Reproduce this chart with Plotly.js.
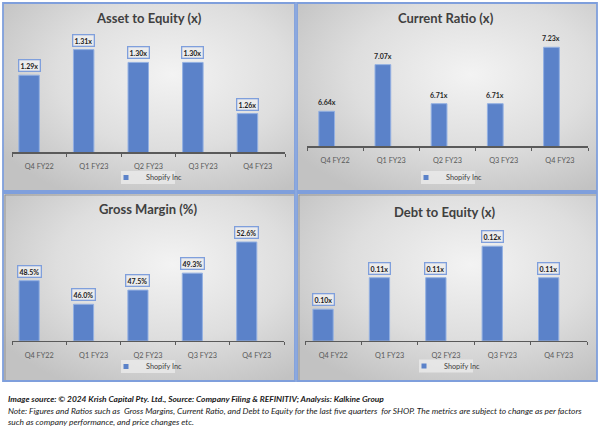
<!DOCTYPE html>
<html>
<head>
<meta charset="utf-8">
<script src="https://cdn.plot.ly/plotly-3.0.1.min.js"></script>
<style>html,body{margin:0;padding:0;background:#fff;}#chart{width:602px;height:429px;}</style>
</head>
<body>
<div id="chart"></div>
<script>
// ---- data ----
const quarters = ['Q4 FY22', 'Q1 FY23', 'Q2 FY23', 'Q3 FY23', 'Q4 FY23'];
const assetToEquity = [1.29, 1.31, 1.30, 1.30, 1.26];
const currentRatio = [6.64, 7.07, 6.71, 6.71, 7.23];
const grossMargin = [48.5, 46.0, 47.5, 49.3, 52.6];
const debtToEquity = [0.10, 0.11, 0.11, 0.12, 0.11];
const seriesName = 'Shopify Inc';
const titles = ['Asset to Equity (x)', 'Current Ratio (x)', 'Gross Margin (%)', 'Debt to Equity (x)'];
const footer1 = 'Image source: © 2024 Krish Capital Pty. Ltd., Source: Company Filing & REFINITIV; Analysis: Kalkine Group';
const footer2 = 'Note: Figures and Ratios such as  Gross Margins, Current Ratio, and Debt to Equity for the last five quarters  for SHOP. The metrics are subject to change as per factors';
const footer3 = 'such as company performance, and price changes etc.';

// ---- layout helpers ----
const W = 602, H = 429;
const px = v => v / W;
const py = v => 1 - v / H;
const FONT = 'Lato, "Open Sans", sans-serif';
const barColor = '#5b82c9';
const barLine = '#93b0e2';
const borderBlue = '#7f9fdc';

const panels = [
  {box: [3, 3, 295, 191], plot: [12, 285, 152, 40], range: [1.23, 1.3175], vals: assetToEquity, fmt: v => v.toFixed(2) + 'x', boxed: true, off: -0.375, w: 0.375, title: [149, 18], legend: [148, 177.5]},
  {box: [297, 3, 597, 191], plot: [307, 588, 146, 40], range: [6.32, 7.297], vals: currentRatio, fmt: v => v.toFixed(2) + 'x', boxed: false, off: -0.29, w: 0.28, title: [446, 18], legend: [448, 177.5]},
  {box: [3, 193, 295, 381], plot: [12, 284, 340.7, 230], range: [42.14, 53.87], vals: grossMargin, fmt: v => v.toFixed(1) + '%', boxed: true, off: -0.37, w: 0.37, title: [148, 209], legend: [148, 366.5]},
  {box: [297, 193, 597, 381], plot: [305, 587, 340.7, 230], range: [0.09, 0.12514], vals: debtToEquity, fmt: v => v.toFixed(2) + 'x', boxed: true, off: -0.36, w: 0.36, title: [445, 212], legend: [446, 366]}
];

const grad = "<svg xmlns='http://www.w3.org/2000/svg' width='100' height='100' viewBox='0 0 100 100' preserveAspectRatio='none'><defs><radialGradient id='g' cx='58%' cy='38%' r='72%'><stop offset='0' stop-color='#f3f3f3'/><stop offset='0.55' stop-color='#dedede'/><stop offset='1' stop-color='#c2c2c2'/></radialGradient></defs><rect width='100' height='100' fill='url(#g)'/></svg>";
const gradSrc = 'data:image/svg+xml;charset=utf-8,' + encodeURIComponent(grad);

const data = [];
const layout = {
  width: W, height: H,
  margin: {l: 0, r: 0, t: 0, b: 0},
  paper_bgcolor: '#ffffff',
  plot_bgcolor: 'rgba(0,0,0,0)',
  font: {family: FONT, color: '#595959'},
  bargap: 0,
  images: [], shapes: [], annotations: []
};

panels.forEach((p, i) => {
  const n = i + 1;
  const xa = 'xaxis' + (n === 1 ? '' : n), ya = 'yaxis' + (n === 1 ? '' : n);
  const xr = 'x' + (n === 1 ? '' : n), yr = 'y' + (n === 1 ? '' : n);
  const lg = 'legend' + (n === 1 ? '' : n);
  const [b0, b1, b2, b3] = p.box;
  const [lx, ly] = p.legend;
  layout.images.push({source: gradSrc, xref: 'paper', yref: 'paper', x: px(b0), y: py(b1), sizex: px(b2) - px(b0), sizey: py(b1) - py(b3), xanchor: 'left', yanchor: 'top', sizing: 'stretch', layer: 'below'});
  layout.shapes.push({type: 'rect', xref: 'paper', yref: 'paper', x0: px(b0), x1: px(b2), y0: py(b1), y1: py(b3), line: {color: borderBlue, width: 1.8}});
  layout.shapes.push({type: 'rect', xref: 'paper', yref: 'paper', layer: 'below', x0: px(lx - 27), x1: px(lx + 27), y0: py(ly - 6.5), y1: py(ly + 6.5), fillcolor: 'rgba(236,236,236,0.75)', line: {width: 0}});
  if (i >= 2) {
    layout.shapes.push({type: 'path', xref: 'paper', yref: 'paper', path: `M${px(b0 + 2)},${py(b3 - 1)} L${px(b0 + 2)},${py(b1 + 2)} L${px(b2 - 1)},${py(b1 + 2)}`, line: {color: '#8a8a8a', width: 0.8}});
  }
  layout[xa] = {domain: [px(p.plot[0]), px(p.plot[1])], anchor: yr, type: 'category', showline: true, linecolor: '#5a5a5a', linewidth: 1.5, ticks: 'outside', tickson: 'boundaries', ticklen: 3, tickcolor: '#5a5a5a', ticklabelstandoff: 7, tickfont: {size: 7.3, color: '#595959', family: FONT}, showgrid: false, zeroline: false, fixedrange: true};
  layout[ya] = {domain: [py(p.plot[2]), py(p.plot[3])], anchor: xr, range: p.range, visible: false, fixedrange: true};
  data.push({type: 'bar', x: quarters, y: p.vals, xaxis: xr, yaxis: yr, offset: p.off, width: p.w, marker: {color: barColor, line: {color: barLine, width: 1}}, showlegend: false, hoverinfo: 'x+y'});
  data.push({type: 'scatter', mode: 'markers', x: [null], y: [null], xaxis: xr, yaxis: yr, name: seriesName, legend: lg, marker: {symbol: 'square', size: 5, color: barColor}, showlegend: true, hoverinfo: 'skip'});
  layout[lg] = {x: px(lx - 1), y: py(ly), xanchor: 'center', yanchor: 'middle', xref: 'paper', yref: 'paper', bgcolor: 'rgba(0,0,0,0)', borderwidth: 0, font: {size: 7.3, color: '#404040', family: FONT}, itemwidth: 30, orientation: 'h', tracegroupgap: 0};
  layout.annotations.push({xref: 'paper', yref: 'paper', x: px(p.title[0]), y: py(p.title[1]), xanchor: 'center', yanchor: 'middle', text: '<b>' + titles[i] + '</b>', showarrow: false, font: {size: 13, color: '#404040', family: FONT}});
  p.vals.forEach((v, k) => {
    const a = {xref: xr, yref: yr, x: k + p.off + p.w / 2, y: v, xanchor: 'center', yanchor: 'bottom', text: '<b>' + p.fmt(v) + '</b>', showarrow: false, font: {size: 7, color: '#1a1a1a', family: FONT}};
    if (p.boxed) { Object.assign(a, {bgcolor: '#ececec', bordercolor: borderBlue, borderwidth: 1.3, borderpad: 1.2, yshift: 3}); }
    else { a.yshift = 3; a.font.color = '#262626'; }
    layout.annotations.push(a);
  });
});

const fStyle = {size: 8.4, color: '#1a1a1a', family: FONT};
layout.annotations.push({xref: 'paper', yref: 'paper', x: px(6), y: py(399), xanchor: 'left', yanchor: 'middle', showarrow: false, text: '<b><i>' + footer1 + '</i></b>', font: fStyle});
layout.annotations.push({xref: 'paper', yref: 'paper', x: px(6), y: py(411), xanchor: 'left', yanchor: 'middle', showarrow: false, text: '<i>' + footer2 + '</i>', font: fStyle});
layout.annotations.push({xref: 'paper', yref: 'paper', x: px(6), y: py(422), xanchor: 'left', yanchor: 'middle', showarrow: false, text: '<i>' + footer3 + '</i>', font: fStyle});

Plotly.newPlot('chart', data, layout, {displayModeBar: false, staticPlot: true});
</script>
</body>
</html>
